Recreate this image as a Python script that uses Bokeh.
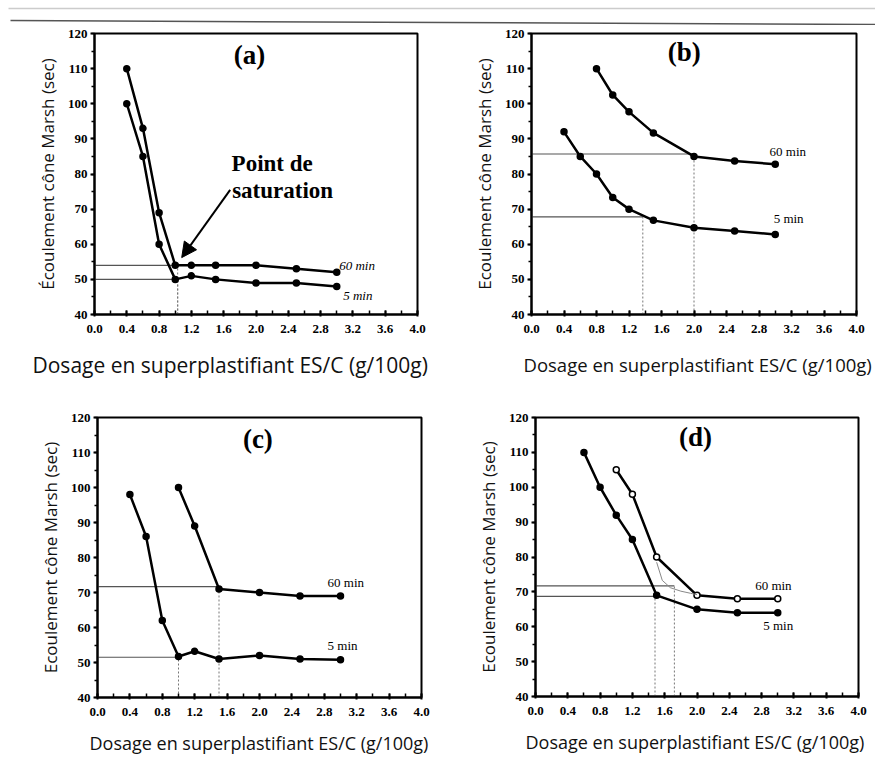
from bokeh.plotting import figure
from bokeh.layouts import column, row
from bokeh.models import (SingleIntervalTicker, PrintfTickFormatter, Label, Arrow,
                          NormalHead, Range1d, Title)
from bokeh.embed import file_html
from bokeh.resources import INLINE

# ---------------- data ----------------
x_a = [0.4, 0.6, 0.8, 1.0, 1.2, 1.5, 2.0, 2.5, 3.0]
y_a60 = [110, 93, 69, 54, 54, 54, 54, 53, 52]
y_a5 = [100, 85, 60, 50, 51, 50, 49, 49, 48]

x_b60 = [0.8, 1.0, 1.2, 1.5, 2.0, 2.5, 3.0]
y_b60 = [110, 102.5, 97.7, 91.7, 85, 83.7, 82.8]
x_b5 = [0.4, 0.6, 0.8, 1.0, 1.2, 1.5, 2.0, 2.5, 3.0]
y_b5 = [92, 85, 80, 73.3, 70, 66.8, 64.7, 63.8, 62.8]

x_c60 = [1.0, 1.2, 1.5, 2.0, 2.5, 3.0]
y_c60 = [100, 89, 71, 70, 69, 69]
x_c5 = [0.4, 0.6, 0.8, 1.0, 1.2, 1.5, 2.0, 2.5, 3.0]
y_c5 = [98, 86, 62, 51.7, 53.2, 51, 52, 51, 50.8]

x_d60 = [1.0, 1.2, 1.5, 2.0, 2.5, 3.0]
y_d60 = [105, 98, 80, 69, 68, 68]
x_d5 = [0.6, 0.8, 1.0, 1.2, 1.5, 2.0, 2.5, 3.0]
y_d5 = [110, 100, 92, 85, 69, 65, 64, 64]
# construction curve in (d)
x_d_curve = [1.5, 1.57, 1.67, 1.8, 1.92, 2.0]
y_d_curve = [78.5, 73.3, 71.2, 70.2, 69.6, 69.2]

# saturation reference points: (dosage, flow) for 60 min then 5 min
sat_a = [(1.03, 54), (1.03, 50)]
sat_b = [(2.0, 85.7), (1.37, 67.8)]
sat_c = [(1.5, 71.7), (1.0, 51.5)]
sat_d = [(1.72, 71.7), (1.48, 68.7)]

panel_names = ["(a)", "(b)", "(c)", "(d)"]
xlabel = "Dosage en superplastifiant ES/C (g/100g)"
ylabels = ["Écoulement cône Marsh (sec)", "Ecoulement cône Marsh (sec)",
           "Ecoulement cône Marsh (sec)", "Ecoulement cône Marsh (sec)"]

SERIF = "Liberation Serif"
SANS = "Open Sans"


def make_panel(name, ylabel, borders, frame, series, sats,
               title_pos, lab60, lab5, xlab_offset, xlab_size, xlab_standoff,
               italic=False):
    left, right, top, bottom = borders
    fw, fh = frame
    p = figure(frame_width=fw, frame_height=fh,
               min_border_left=left, min_border_right=right,
               min_border_top=top, min_border_bottom=bottom,
               x_range=Range1d(0, 4), y_range=Range1d(40, 120),
               output_backend="svg", toolbar_location=None, tools="")
    p.xgrid.visible = False
    p.ygrid.visible = False
    p.outline_line_color = "black"
    p.outline_line_width = 2
    p.background_fill_color = "white"
    p.border_fill_color = "white"

    p.xaxis.ticker = SingleIntervalTicker(interval=0.4, num_minor_ticks=2)
    p.yaxis.ticker = SingleIntervalTicker(interval=10, num_minor_ticks=2)
    p.xaxis.formatter = PrintfTickFormatter(format="%.1f")
    for ax in (p.xaxis, p.yaxis):
        ax.axis_line_width = 2
        ax.axis_line_color = "black"
        ax.major_tick_line_width = 2
        ax.minor_tick_line_width = 1.5
        ax.major_label_text_font = SERIF
        ax.major_label_text_font_size = "13px"
        ax.major_label_text_font_style = "bold"
        ax.major_label_text_color = "black"
    p.xaxis.major_tick_in = 4
    p.xaxis.major_tick_out = 2
    p.xaxis.minor_tick_in = 4
    p.xaxis.minor_tick_out = 0
    p.yaxis.major_tick_in = 0
    p.yaxis.major_tick_out = 4
    p.yaxis.minor_tick_in = 0
    p.yaxis.minor_tick_out = 3
    p.xaxis.major_label_standoff = 8
    p.yaxis.major_label_standoff = 3

    p.yaxis.axis_label = ylabel
    p.yaxis.axis_label_text_font = SANS
    p.yaxis.axis_label_text_font_style = "normal"
    p.yaxis.axis_label_text_font_size = "17px"
    p.yaxis.axis_label_text_color = "#111"
    p.yaxis.axis_label_standoff = 6

    # x axis title as a left-aligned title below (the scan is not frame-centred)
    p.add_layout(Title(text=xlabel, align="left", offset=xlab_offset,
                       text_font=SANS, text_font_style="normal",
                       text_font_size=xlab_size, text_color="#111",
                       standoff=xlab_standoff), "below")

    # saturation reference lines
    for (xs, ys) in sats:
        p.line([0, xs], [ys, ys], line_color="#555", line_width=1.2)
        p.line([xs, xs], [40, ys], line_color="#777", line_width=1,
               line_dash="2 2")

    for (xx, yy, open_marker) in series:
        p.line(xx, yy, line_color="black", line_width=2.5)
        p.scatter(xx, yy, size=6, line_color="black", line_width=1.5,
                  fill_color="white" if open_marker else "black")

    p.add_layout(Label(x=title_pos[0], y=title_pos[1], text=name,
                       text_font=SERIF, text_font_style="bold",
                       text_font_size="27px", text_align="center",
                       text_baseline="middle", text_color="black"))
    style = "italic" if italic else "normal"
    p.add_layout(Label(x=lab60[0], y=lab60[1], text="60 min", text_font=SERIF,
                       text_font_size="13px", text_font_style=style,
                       text_baseline="middle", text_color="black"))
    p.add_layout(Label(x=lab5[0], y=lab5[1], text="5 min", text_font=SERIF,
                       text_font_size="13px", text_font_style=style,
                       text_baseline="middle", text_color="black"))
    return p


pa = make_panel(panel_names[0], ylabels[0], (94, 20, 8, 79), (323, 281),
                [(x_a, y_a60, False), (x_a, y_a5, False)], sat_a,
                title_pos=(1.92, 114), lab60=(3.03, 54), lab5=(3.08, 45.5),
                xlab_offset=-62, xlab_size="21px", xlab_standoff=27, italic=True)
pa.add_layout(Arrow(end=NormalHead(size=15, fill_color="black", line_color="black"),
                    x_start=1.68, y_start=75.5, x_end=1.08, y_end=56.2,
                    line_width=2, line_color="black"))
pa.add_layout(Label(x=2.2, y=83, text="Point de", text_font=SERIF,
                    text_font_style="bold", text_font_size="23px",
                    text_align="center", text_baseline="middle", text_color="black"))
pa.add_layout(Label(x=2.33, y=75.3, text="saturation", text_font=SERIF,
                    text_font_style="bold", text_font_size="23px",
                    text_align="center", text_baseline="middle", text_color="black"))

pb = make_panel(panel_names[1], ylabels[1], (94, 19, 8, 79), (325, 281),
                [(x_b60, y_b60, False), (x_b5, y_b5, False)], sat_b,
                title_pos=(1.88, 114.8), lab60=(2.93, 86.5), lab5=(2.98, 67.3),
                xlab_offset=-8, xlab_size="18.5px", xlab_standoff=29)

pc = make_panel(panel_names[2], ylabels[2], (97, 16, 22, 67), (324, 280),
                [(x_c60, y_c60, False), (x_c5, y_c5, False)], sat_c,
                title_pos=(1.98, 113.8), lab60=(2.84, 73), lab5=(2.84, 54.8),
                xlab_offset=-8, xlab_size="18px", xlab_standoff=20)

pd_ = make_panel(panel_names[3], ylabels[3], (98, 17, 24, 66), (323, 279),
                 [(x_d60, y_d60, True), (x_d5, y_d5, False)], sat_d,
                 title_pos=(1.98, 114.3), lab60=(2.72, 71.8), lab5=(2.82, 60.5),
                 xlab_offset=-10, xlab_size="18px", xlab_standoff=20)
pd_.line(x_d_curve, y_d_curve, line_color="#888", line_width=1)

# top band with the scanned page edges
band = figure(width=875, height=25, x_range=Range1d(0, 875), y_range=Range1d(25, 0),
              output_backend="svg", toolbar_location=None, tools="",
              min_border=0)
band.axis.visible = False
band.grid.visible = False
band.outline_line_color = None
band.line([8, 875], [8, 8], line_color="#cccccc", line_width=1.5)
band.line([10, 875], [20, 24], line_color="#555555", line_width=1.5)

layout = column(band, row(pa, pb), row(pc, pd_))
open("out.html", "w").write(file_html(layout, INLINE))
